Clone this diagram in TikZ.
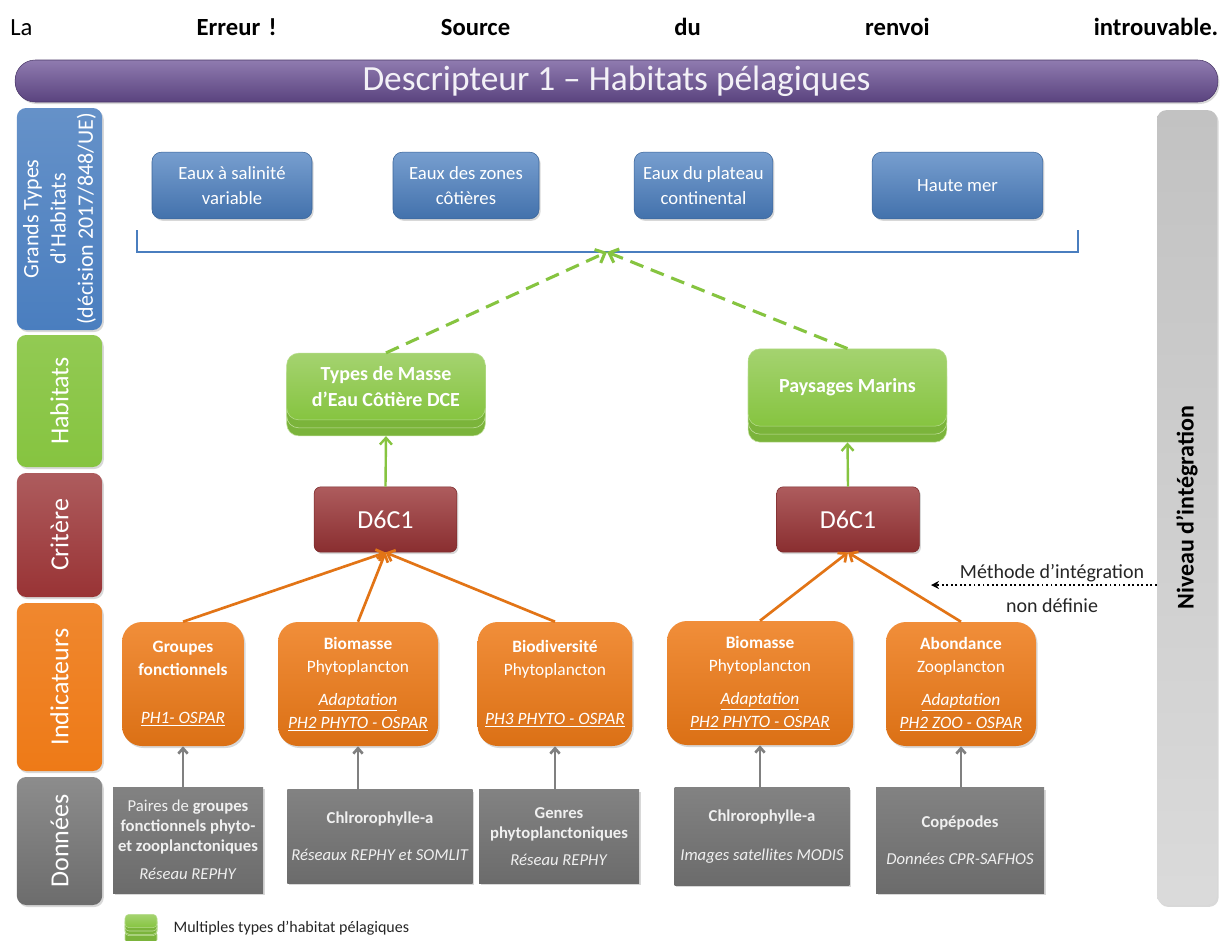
\documentclass[tikz,border=0pt]{standalone}
\usepackage{fontspec}
\setmainfont{Carlito}
\usepackage{xcolor}
\usepackage{tikz}
\usetikzlibrary{calc}
\usetikzlibrary{arrows.meta}
\usetikzlibrary{shadows}
\tikzset{>=latex}

\definecolor{dpurple}{HTML}{6A4F95}
\definecolor{dblue}{HTML}{4A7EBF}
\definecolor{dgreen}{HTML}{86C440}
\definecolor{dred}{HTML}{993335}
\definecolor{dorange}{HTML}{EE7A17}
\definecolor{dgray}{HTML}{717171}
\definecolor{lgray}{HTML}{C2C2C2}

\tikzstyle{shad} = [drop shadow = {opacity = .3, shadow xshift = 1.2pt, shadow yshift = -1.5pt}]
\tikzstyle{lab} = [rectangle, rounded corners = 7pt, rotate = 90, align = center, text = white, minimum height = 64pt, inner sep = 1, font = \fontsize{19.5}{22}\selectfont, shad]
\tikzstyle{hbox} = [rectangle, rounded corners = 7pt, align = center, text = white, minimum height = 50pt, draw = dblue!80!black, top color = dblue!75!white, bottom color = dblue!90!black, font = \fontsize{14}{18.75}\selectfont, shad]
\tikzstyle{habbox} = [rectangle, rounded corners = 9pt, align = center, text = white, minimum width = 149pt, draw = dgreen!60!white, top color = dgreen!75!white, bottom color = dgreen, font = \bfseries\fontsize{15}{19}\selectfont, double copy shadow = {shadow xshift = 0pt, shadow yshift = -6pt, draw = dgreen!50!white, fill = dgreen!92!black}]
\tikzstyle{crit} = [rectangle, rounded corners = 5pt, align = center, text = white, minimum width = 107pt, minimum height = 49pt, draw = dred!80!black, top color = dred!80!white, bottom color = dred!90!black, font = \fontsize{19.5}{22}\selectfont, shad]
\tikzstyle{ind} = [rectangle, rounded corners = 15pt, align = center, text = white, minimum height = 93pt, inner sep = 1, top color = dorange!85!white, bottom color = dorange!92!black, font = \fontsize{13}{17}\selectfont, shad]
\tikzstyle{databox} = [rectangle, align = center, text = white!94!black, inner sep = 1, top color = dgray!88!white, bottom color = dgray!95!black, font = \fontsize{12.5}{15}\selectfont, shad]
\tikzstyle{note} = [draw = none, inner sep = 1, text = black!85, font = \fontsize{15}{18}\selectfont]
\tikzstyle{hdash} = [-{Straight Barb[length = 6pt, width = 11pt]}, draw = dgreen, line width = 2.3pt, dash pattern = on 10.5pt off 6pt]
\tikzstyle{harrow} = [-{Straight Barb[length = 5pt, width = 9pt]}, draw = dgreen, line width = 1.8pt]
\tikzstyle{oarrow} = [-{Straight Barb[length = 5pt, width = 9pt]}, draw = dorange!95!black, line width = 2pt]
\tikzstyle{garrow} = [-{Straight Barb[length = 4pt, width = 7pt]}, draw = gray, line width = 2pt]
\tikzstyle{dotarrow} = [-{Stealth[length = 6pt, width = 6pt]}, draw = black, line width = 1.4pt, dotted]

\begin{document}
\begin{tikzpicture}[x = 0.75pt, y = -0.75pt]
\useasboundingbox (0,0) rectangle (1221,940);
\fill [white] (0,0) rectangle (1221,940);

\node [anchor = base west, inner sep = 0, text width = 906pt, font = \fontsize{18.5}{22}\selectfont] (ref) at (10,35) {La\hfill\textbf{Erreur !}\hfill\textbf{Source}\hfill\textbf{du}\hfill\textbf{renvoi}\hfill\textbf{introuvable.}};
\node [rectangle, rounded corners = 15pt, minimum width = 902pt, minimum height = 31.5pt, top color = dpurple!75!white, bottom color = dpurple!85!black, draw = dpurple!70!black, text = white!92!dpurple, font = \fontsize{26.5}{30}\selectfont, shad] (hdr) at (616.5,81) {Descripteur 1 -- Habitats pélagiques};

% colonne des niveaux
\node [lab, minimum width = 166.5pt, top color = dblue!85!white, bottom color = dblue, font = \fontsize{16.5}{20.5}\selectfont] (lgth) at (59.5,219) {Grands Types\\d'Habitats\\(décision 2017/848/UE)};
\node [lab, minimum width = 99pt, top color = dgreen!90!white, bottom color = dgreen] (lhab) at (59.5,401) {Habitats};
\node [lab, minimum width = 93pt, top color = dred!80!white, bottom color = dred] (lcrit) at (59.5,535) {Critère};
\node [lab, minimum width = 126pt, top color = dorange!90!white, bottom color = dorange] (lind) at (59.5,687) {Indicateurs};
\node [lab, minimum width = 96pt, top color = gray!90!white, bottom color = gray!85!black] (ldon) at (59.5,841) {Données};
\node [lab, minimum width = 596pt, minimum height = 45pt, top color = lgray, bottom color = lgray!60!white, text = black, font = \bfseries\fontsize{18}{22}\selectfont] (niv) at (1187,507.5) {Niveau d'intégration};

\node [hbox, minimum width = 120pt] (b1) at (232,185.5) {Eaux à salinité\\variable};
\node [hbox, minimum width = 109.5pt] (b2) at (466,185.5) {Eaux des zones\\côtières};
\node [hbox, minimum width = 104pt] (b3) at (703.5,185.5) {Eaux du plateau\\continental};
\node [hbox, minimum width = 128pt] (b4) at (957.5,185.5) {Haute mer};
\draw [draw = dblue, line width = 1.2pt] (137,230) |- (1078,252) -- (1078,230);
\coordinate (top) at (607,252);

\node [habbox, minimum height = 50pt] (g1) at (386,386.5) {Types de Masse\\d'Eau Côtière DCE};
\node [habbox, minimum height = 58pt] (g2) at (847.5,387.5) {Paysages Marins};

\node [crit] (c1) at (385.5,519.5) {D6C1};
\node [crit] (c2) at (848,519.5) {D6C1};

\node [ind, minimum width = 91.5pt] (i1) at (183,684) {\textbf{Groupes}\\\textbf{fonctionnels}\\[19pt]\underline{\emph{PH1- OSPAR}}};
\node [ind, minimum width = 120pt] (i2) at (358,684) {\textbf{Biomasse}\\Phytoplancton\\[8pt]\underline{\emph{Adaptation}}\\\underline{\emph{PH2 PHYTO - OSPAR}}};
\node [ind, minimum width = 116pt] (i3) at (555,684) {\textbf{Biodiversité}\\Phytoplancton\\[20pt]\underline{\emph{PH3 PHYTO - OSPAR}}};
\node [ind, minimum width = 139.5pt] (i4) at (760,683) {\textbf{Biomasse}\\Phytoplancton\\[8pt]\underline{\emph{Adaptation}}\\\underline{\emph{PH2 PHYTO - OSPAR}}};
\node [ind, minimum width = 112.5pt] (i5) at (961,684) {\textbf{Abondance}\\Zooplancton\\[8pt]\underline{\emph{Adaptation}}\\\underline{\emph{PH2 ZOO - OSPAR}}};

\node [databox, minimum width = 112.5pt, minimum height = 79.5pt] (d1) at (188,840) {Paires de \textbf{groupes}\\\textbf{fonctionnels phyto-}\\\textbf{et zooplanctoniques}\\[6pt]\emph{Réseau REPHY}};
\node [databox, minimum width = 139pt, minimum height = 70pt] (d2) at (380,836.5) {\textbf{Chlrorophylle-a}\\[13pt]\emph{Réseaux REPHY et SOMLIT}};
\node [databox, minimum width = 120pt, minimum height = 70pt] (d3) at (559,836.5) {\textbf{Genres}\\\textbf{phytoplanctoniques}\\[5pt]\emph{Réseau REPHY}};
\node [databox, minimum width = 131pt, minimum height = 73pt] (d4) at (762,836.5) {\textbf{Chlrorophylle-a}\\[14pt]\emph{Images satellites MODIS}};
\node [databox, minimum width = 126pt, minimum height = 79pt] (d5) at (960,840.5) {\textbf{Copépodes}\\[13pt]\emph{Données CPR-SAFHOS}};

\draw [hdash] (g1.north) -- (top);
\draw [hdash] (g2.north) -- (top);
\draw [harrow] (c1.north) -- ($(g1.south) + (0,16)$);
\draw [harrow] (c2.north) -- ($(g2.south) + (0,16)$);
\foreach \i in {1,2,3} \draw [oarrow] (i\i.north) -- (c1.south);
\foreach \i in {4,5} \draw [oarrow] (i\i.north) -- (c2.south);
\foreach \i in {1,...,5} \draw [garrow] (d\i.north -| i\i.south) -- (i\i.south);

\coordinate (meth) at (931,585);
\draw [dotarrow] (niv.north |- meth) -- (meth);
\node [note] (m1) at (1052,573) {Méthode d'intégration};
\node [note] (m2) at (1052,606) {non définie};

\node [habbox, minimum width = 24pt, minimum height = 10pt, rounded corners = 3pt, double copy shadow = {shadow xshift = 0pt, shadow yshift = -2.5pt, draw = dgreen!50!white, fill = dgreen!92!black}] (leg) at (141,921) {};
\node [anchor = west, inner sep = 1, text = black!85, font = \fontsize{12}{14}\selectfont] (legtext) at (172,928) {Multiples types d'habitat pélagiques};
\end{tikzpicture}
\end{document}
